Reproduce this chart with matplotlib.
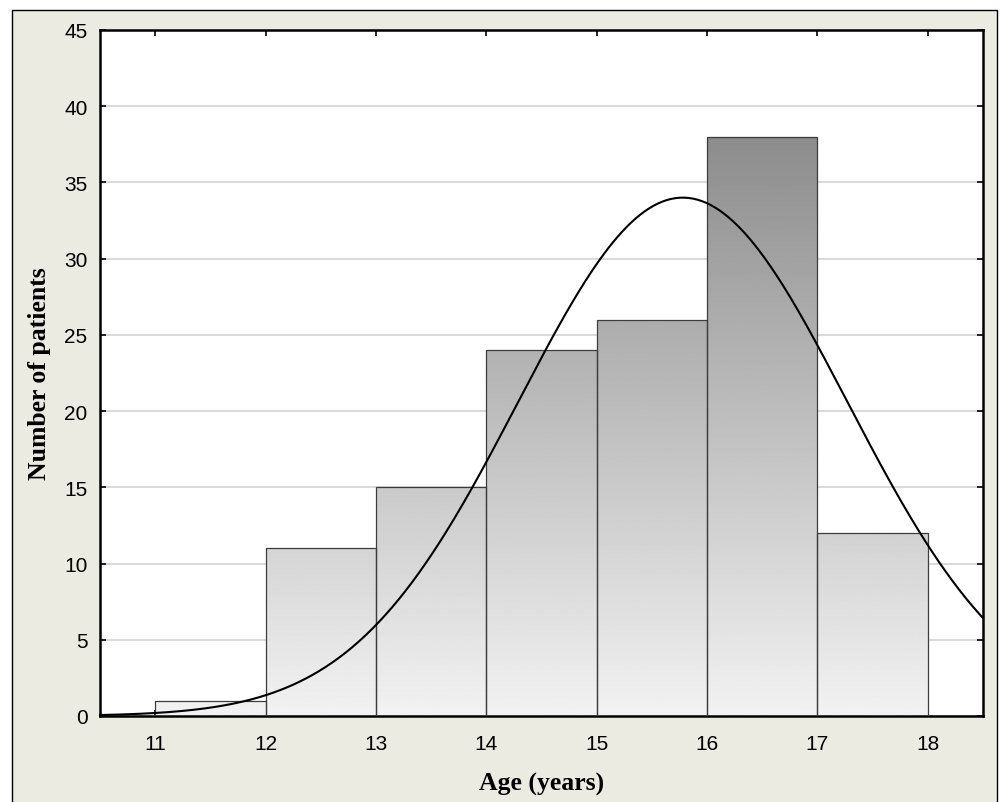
import matplotlib
matplotlib.use("Agg")
import matplotlib.pyplot as plt
import numpy as np
from matplotlib.patches import Rectangle

# histogram of patient ages
bin_edges = [11, 12, 13, 14, 15, 16, 17, 18]
counts = [1, 11, 15, 24, 26, 38, 12]

# fitted normal curve parameters
fit_mean = 15.78
fit_sd = 1.49

x_ticks = [11, 12, 13, 14, 15, 16, 17, 18]
y_ticks = [0, 5, 10, 15, 20, 25, 30, 35, 40, 45]

fig = plt.figure(figsize=(10, 8.03), dpi=100)
fig.patch.set_facecolor("white")
top_frac = 1 - 11 / 803
bg = Rectangle((0.012, -0.01), 0.985, top_frac + 0.01,
               transform=fig.transFigure, facecolor="#ecebe1", edgecolor="black",
               linewidth=1.0, zorder=-5)
fig.patches.append(bg)

ax = fig.add_axes([0.100, 0.1071, 0.883, 0.8543])
ax.set_zorder(1)
ax.set_facecolor("white")

ax.yaxis.grid(True, color="#d9d9d9", linewidth=1.4, zorder=0)
ax.set_axisbelow(True)

# global vertical gradient, clipped to each bar
grad = np.linspace(0, 1, 256).reshape(-1, 1)
ymax_grad = 38
lo, hi = 0.95, 0.55
for i, c in enumerate(counts):
    x0, x1 = bin_edges[i], bin_edges[i + 1]
    rect = Rectangle((x0, 0), x1 - x0, c, facecolor="none", edgecolor="#3c3c3c",
                     linewidth=0.9, zorder=3)
    ax.add_patch(rect)
    vals = lo + (hi - lo) * grad * (c / ymax_grad)
    img = ax.imshow(vals, extent=(x0, x1, 0, c), origin="lower", cmap="gray",
                    vmin=0, vmax=1, aspect="auto", zorder=2, interpolation="bilinear")
    img.set_clip_path(rect)

xs = np.linspace(10.5, 18.5, 400)
n_total = sum(counts)
ys = n_total * 1.0 / (fit_sd * np.sqrt(2 * np.pi)) * np.exp(-0.5 * ((xs - fit_mean) / fit_sd) ** 2)
ax.plot(xs, ys, color="black", linewidth=1.5, zorder=4, clip_on=False)

ax.set_xlim(10.5, 18.5)
ax.set_ylim(0, 45)
ax.set_xticks(x_ticks)
ax.set_yticks(y_ticks)
ax.tick_params(direction="in", length=4, width=1.2, top=True, right=True,
               labelsize=15)
ax.tick_params(axis="y", pad=9)
ax.tick_params(axis="x", pad=13)
for lab in ax.get_xticklabels() + ax.get_yticklabels():
    lab.set_fontfamily("Liberation Sans")

for s in ax.spines.values():
    s.set_linewidth(1.8)
    s.set_color("black")

ax.set_xlabel("Age (years)", fontfamily="Liberation Serif", fontweight="bold",
              fontsize=18.5, va="center")
ax.xaxis.set_label_coords(0.5, -0.0977)
ax.set_ylabel("Number of patients", fontfamily="Liberation Serif", fontweight="bold",
              fontsize=18.5, va="center")
ax.yaxis.set_label_coords(-0.068, 0.5)

fig.savefig("out.png", dpi=100)
